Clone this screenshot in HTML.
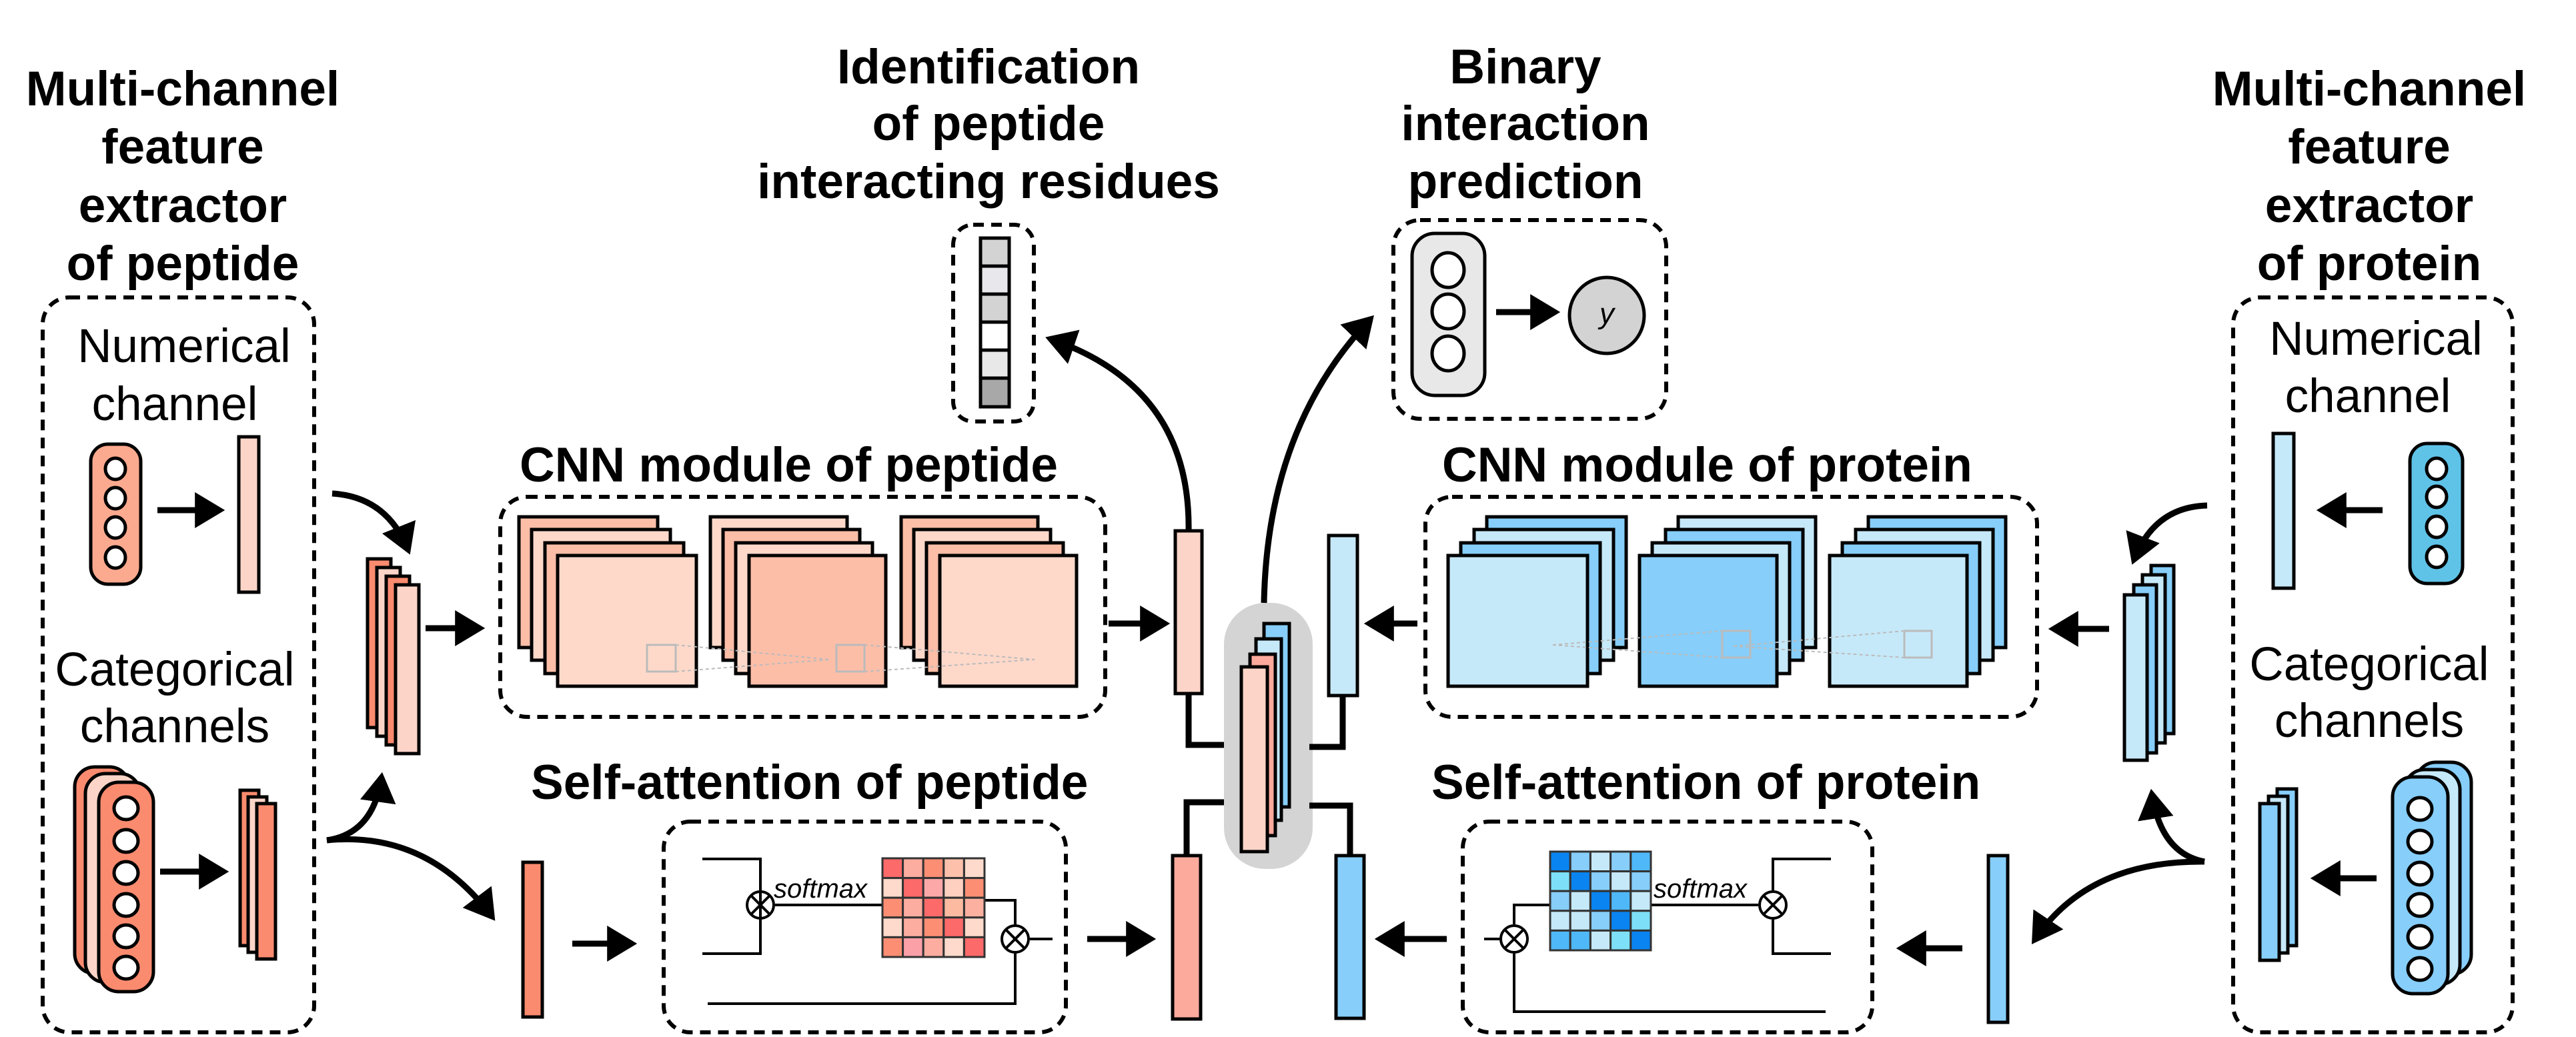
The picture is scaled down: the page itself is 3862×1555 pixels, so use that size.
<!DOCTYPE html>
<html><head><meta charset="utf-8"><style>
html,body{margin:0;padding:0;background:#fff}
svg{display:block}
text{font-family:"Liberation Sans",Arial,sans-serif}
.t{font-weight:bold;font-size:73px;text-anchor:middle}
.l{font-size:71px;text-anchor:middle}
.k{stroke:#000;stroke-width:5}
.d{fill:none;stroke:#000;stroke-width:6;stroke-dasharray:16 11}
.a{fill:none;stroke:#000;stroke-width:9}
.th{fill:none;stroke:#000;stroke-width:4}
.g{fill:none;stroke:#bbb;stroke-width:3}
.gd{fill:none;stroke:#bbb;stroke-width:2;stroke-dasharray:5 4}
</style></head><body>
<svg width="3862" height="1555" viewBox="0 0 3862 1555" xmlns="http://www.w3.org/2000/svg">
<defs>
<marker id="ah" markerWidth="6" markerHeight="6" refX="4.2" refY="3" orient="auto" markerUnits="strokeWidth">
<path d="M0,0 L5,3 L0,6 Z" fill="#000"/></marker>
</defs>

<text class="t" x="274" y="158">Multi-channel</text>
<text class="t" x="274" y="245">feature</text>
<text class="t" x="274" y="333">extractor</text>
<text class="t" x="274" y="420">of peptide</text>

<text class="t" x="3552" y="158">Multi-channel</text>
<text class="t" x="3552" y="245">feature</text>
<text class="t" x="3552" y="333">extractor</text>
<text class="t" x="3552" y="420">of protein</text>

<text class="t" x="1482" y="125">Identification</text>
<text class="t" x="1482" y="210">of peptide</text>
<text class="t" x="1482" y="297">interacting residues</text>

<text class="t" x="2287" y="125">Binary</text>
<text class="t" x="2287" y="210">interaction</text>
<text class="t" x="2287" y="297">prediction</text>

<text class="t" x="779" y="722" style="text-anchor:start">CNN module of peptide</text>
<text class="t" x="2162" y="722" style="text-anchor:start">CNN module of protein</text>
<text class="t" x="796" y="1198" style="text-anchor:start">Self-attention of peptide</text>
<text class="t" x="2146" y="1198" style="text-anchor:start">Self-attention of protein</text>

<rect class="d" x="64" y="446" width="407" height="1102" rx="40"/>
<text class="l" x="276" y="543">Numerical</text>
<text class="l" x="262" y="630">channel</text>
<text class="l" x="262" y="1028">Categorical</text>
<text class="l" x="262" y="1113">channels</text>
<rect class="k" x="136" y="666" width="75" height="210" rx="26" fill="#fcaa8f"/>
<g fill="#fff" class="k"><ellipse cx="173" cy="703" rx="15" ry="16"/><ellipse cx="173" cy="747" rx="15" ry="16"/><ellipse cx="173" cy="791" rx="15" ry="16"/><ellipse cx="173" cy="836" rx="15" ry="16"/></g>
<line class="a" x1="236" y1="765" x2="330" y2="765" marker-end="url(#ah)"/>
<rect class="k" x="358" y="655" width="30" height="233" fill="#fdd5c8"/>

<rect class="k" x="112" y="1150" width="82" height="310" rx="30" fill="#fb8b6f"/>
<rect class="k" x="128" y="1160" width="82" height="313" rx="30" fill="#fdd5c8"/>
<rect class="k" x="148" y="1173" width="82" height="314" rx="30" fill="#fb8b6f"/>
<g fill="#fff" class="k"><ellipse cx="189" cy="1212" rx="18" ry="17"/><ellipse cx="189" cy="1261" rx="18" ry="17"/><ellipse cx="189" cy="1309" rx="18" ry="17"/><ellipse cx="189" cy="1357" rx="18" ry="17"/><ellipse cx="189" cy="1404" rx="18" ry="17"/><ellipse cx="189" cy="1451" rx="18" ry="17"/></g>
<line class="a" x1="240" y1="1307" x2="336" y2="1307" marker-end="url(#ah)"/>
<rect class="k" x="360" y="1185" width="28" height="233" fill="#fb8b6f"/>
<rect class="k" x="372" y="1195" width="28" height="233" fill="#fdd5c8"/>
<rect class="k" x="385" y="1205" width="28" height="233" fill="#fb8b6f"/>

<path class="a" d="M498,740 Q580,745 612,825" marker-end="url(#ah)"/>
<path class="a" d="M490,1260 Q560,1250 572,1165" marker-end="url(#ah)"/>
<path class="a" d="M490,1260 Q640,1245 738,1375" marker-end="url(#ah)"/>

<rect class="k" x="551" y="838" width="35" height="253" fill="#fb8b6f"/>
<rect class="k" x="565" y="851" width="35" height="253" fill="#fdd5c8"/>
<rect class="k" x="579" y="864" width="35" height="253" fill="#fb8b6f"/>
<rect class="k" x="593" y="877" width="35" height="253" fill="#fdd5c8"/>
<line class="a" x1="638" y1="942" x2="720" y2="942" marker-end="url(#ah)"/>

<rect class="d" x="750" y="745" width="907" height="330" rx="40"/>
<g class="k">
<rect x="778" y="775" width="208" height="196" fill="#fdbea8"/>
<rect x="797" y="794" width="208" height="196" fill="#fed9ca"/>
<rect x="817" y="814" width="208" height="196" fill="#fdbea8"/>
<rect x="836" y="833" width="208" height="196" fill="#fed9ca"/>
<rect x="1065" y="775" width="205" height="196" fill="#fed9ca"/>
<rect x="1084" y="794" width="205" height="196" fill="#fdbea8"/>
<rect x="1103" y="814" width="205" height="196" fill="#fed9ca"/>
<rect x="1123" y="833" width="205" height="196" fill="#fdbea8"/>
<rect x="1351" y="775" width="205" height="196" fill="#fdbea8"/>
<rect x="1370" y="794" width="205" height="196" fill="#fed9ca"/>
<rect x="1389" y="814" width="205" height="196" fill="#fdbea8"/>
<rect x="1409" y="833" width="205" height="196" fill="#fed9ca"/>
</g>
<rect class="g" x="970" y="967" width="43" height="40"/>
<rect class="g" x="1254" y="967" width="42" height="40"/>
<path class="gd" d="M1013,967 L1244,989 M1013,1007 L1244,989 M1296,967 L1551,989 M1296,1007 L1551,989"/>

<rect class="d" x="995" y="1232" width="603" height="316" rx="40"/>
<rect class="k" x="784" y="1293" width="29" height="232" fill="#fb8b6f"/>
<line class="a" x1="858" y1="1415" x2="948" y2="1415" marker-end="url(#ah)"/>
<path class="th" d="M1053,1288 H1140 V1430 H1053"/>
<path class="th" d="M1162,1357 H1323 M1476,1350 H1522 V1386 M1544,1408 H1578 M1061,1505 H1522 V1430"/>
<circle cx="1140" cy="1357" r="20" fill="#fff" class="th"/>
<path class="th" d="M1126,1343 L1154,1371 M1154,1343 L1126,1371"/>
<circle cx="1522" cy="1408" r="20" fill="#fff" class="th"/>
<path class="th" d="M1508,1394 L1536,1422 M1536,1394 L1508,1422"/>
<text x="1160" y="1346" font-size="40" font-style="italic">softmax</text>
<g stroke="#333" stroke-width="3">
<rect x="1323" y="1287" width="30.6" height="29.6" fill="#fc6a6a"/><rect x="1353.6" y="1287" width="30.6" height="29.6" fill="#fcada0"/><rect x="1384.2" y="1287" width="30.6" height="29.6" fill="#fc8e74"/><rect x="1414.8" y="1287" width="30.6" height="29.6" fill="#fdc1ab"/><rect x="1445.4" y="1287" width="30.6" height="29.6" fill="#fddacb"/>
<rect x="1323" y="1316.6" width="30.6" height="29.6" fill="#fddacb"/><rect x="1353.6" y="1316.6" width="30.6" height="29.6" fill="#fc6a6a"/><rect x="1384.2" y="1316.6" width="30.6" height="29.6" fill="#fca8a8"/><rect x="1414.8" y="1316.6" width="30.6" height="29.6" fill="#fdd0c0"/><rect x="1445.4" y="1316.6" width="30.6" height="29.6" fill="#fc8e74"/>
<rect x="1323" y="1346.2" width="30.6" height="29.6" fill="#fc8e74"/><rect x="1353.6" y="1346.2" width="30.6" height="29.6" fill="#fcada0"/><rect x="1384.2" y="1346.2" width="30.6" height="29.6" fill="#fc6a6a"/><rect x="1414.8" y="1346.2" width="30.6" height="29.6" fill="#fcbba1"/><rect x="1445.4" y="1346.2" width="30.6" height="29.6" fill="#fcb0a0"/>
<rect x="1323" y="1375.8" width="30.6" height="29.6" fill="#fddacb"/><rect x="1353.6" y="1375.8" width="30.6" height="29.6" fill="#fcada0"/><rect x="1384.2" y="1375.8" width="30.6" height="29.6" fill="#fc8e74"/><rect x="1414.8" y="1375.8" width="30.6" height="29.6" fill="#fc6a6a"/><rect x="1445.4" y="1375.8" width="30.6" height="29.6" fill="#fddacb"/>
<rect x="1323" y="1405.4" width="30.6" height="29.6" fill="#fc8e74"/><rect x="1353.6" y="1405.4" width="30.6" height="29.6" fill="#fca0a8"/><rect x="1384.2" y="1405.4" width="30.6" height="29.6" fill="#fcada0"/><rect x="1414.8" y="1405.4" width="30.6" height="29.6" fill="#fddacb"/><rect x="1445.4" y="1405.4" width="30.6" height="29.6" fill="#fc6a6a"/>
</g>

<line class="a" x1="1662" y1="935" x2="1747" y2="935" marker-end="url(#ah)"/>
<line class="a" x1="1630" y1="1408" x2="1726" y2="1408" marker-end="url(#ah)"/>
<rect class="k" x="1762" y="796" width="40" height="244" fill="#fdd5c8"/>
<rect class="k" x="1758" y="1283" width="42" height="245" fill="#fcaa9c"/>
<path class="a" d="M1782,1040 V1117 H1840 M1779,1283 V1203 H1840"/>

<rect x="1835" y="904" width="133" height="399" rx="62" fill="#d4d4d4"/>
<rect class="k" x="1895" y="935" width="38" height="275" fill="#87cefa"/>
<rect class="k" x="1883" y="958" width="38" height="272" fill="#c6e9f9"/>
<rect class="k" x="1874" y="981" width="38" height="272" fill="#fcaa9c"/>
<rect class="k" x="1861" y="1000" width="39" height="277" fill="#fdd5c8"/>

<path class="a" d="M1782,796 Q1785,580 1574,508" marker-end="url(#ah)"/>
<path class="a" d="M1895,904 Q1900,640 2055,478" marker-end="url(#ah)"/>

<rect class="d" x="1429" y="337" width="121" height="295" rx="30"/>
<g class="k" stroke-width="4">
<rect x="1470" y="357" width="43" height="42" fill="#d3d3d3"/>
<rect x="1470" y="399" width="43" height="42" fill="#e8e8ec"/>
<rect x="1470" y="441" width="43" height="42" fill="#d3d3d3"/>
<rect x="1470" y="483" width="43" height="42" fill="#ffffff"/>
<rect x="1470" y="525" width="43" height="42" fill="#e8e8e8"/>
<rect x="1470" y="567" width="43" height="43" fill="#a8a8a8"/>
</g>

<rect class="d" x="2089" y="330" width="409" height="298" rx="40"/>
<rect class="k" x="2117" y="350" width="109" height="243" rx="34" fill="#e8e8e8"/>
<g fill="#fff" class="k"><ellipse cx="2171" cy="405" rx="24" ry="26"/><ellipse cx="2171" cy="467" rx="24" ry="26"/><ellipse cx="2171" cy="530" rx="24" ry="26"/></g>
<line class="a" x1="2243" y1="468" x2="2332" y2="468" marker-end="url(#ah)"/>
<ellipse class="k" cx="2409" cy="473" rx="56" ry="57" fill="#d3d3d3"/>
<text x="2409" y="485" font-size="44" font-style="italic" text-anchor="middle">y</text>

<rect class="k" x="1992" y="803" width="43" height="240" fill="#c6e9f9"/>
<rect class="k" x="2003" y="1283" width="42" height="244" fill="#87cefa"/>
<path class="a" d="M2013,1043 V1120 H1963 M2024,1283 V1208 H1963"/>
<line class="a" x1="2125" y1="935" x2="2052" y2="935" marker-end="url(#ah)"/>
<line class="a" x1="2169" y1="1408" x2="2068" y2="1408" marker-end="url(#ah)"/>

<rect class="d" x="2137" y="745" width="917" height="330" rx="40"/>
<g class="k">
<rect x="2229" y="775" width="209" height="196" fill="#87cefa"/>
<rect x="2210" y="794" width="209" height="196" fill="#c6e9f9"/>
<rect x="2190" y="814" width="209" height="196" fill="#87cefa"/>
<rect x="2171" y="833" width="209" height="196" fill="#c6e9f9"/>
<rect x="2516" y="775" width="206" height="196" fill="#c6e9f9"/>
<rect x="2497" y="794" width="206" height="196" fill="#87cefa"/>
<rect x="2477" y="814" width="206" height="196" fill="#c6e9f9"/>
<rect x="2458" y="833" width="206" height="196" fill="#87cefa"/>
<rect x="2801" y="775" width="206" height="196" fill="#87cefa"/>
<rect x="2782" y="794" width="206" height="196" fill="#c6e9f9"/>
<rect x="2762" y="814" width="206" height="196" fill="#87cefa"/>
<rect x="2743" y="833" width="206" height="196" fill="#c6e9f9"/>
</g>
<rect class="g" x="2582" y="946" width="42" height="40"/>
<rect class="g" x="2855" y="946" width="41" height="40"/>
<path class="gd" d="M2328,967 L2582,946 M2328,967 L2582,986 M2599,969 L2855,946 M2599,969 L2855,986"/>

<rect class="d" x="2193" y="1232" width="614" height="316" rx="40"/>
<path class="th" d="M2225,1408 H2248 M2270,1386 V1357 H2324 M2270,1430 V1517 H2737 M2475,1357 H2636 M2658,1335 V1288 H2745 M2658,1379 V1430 H2745"/>
<circle cx="2270" cy="1408" r="20" fill="#fff" class="th"/>
<path class="th" d="M2256,1394 L2284,1422 M2284,1394 L2256,1422"/>
<circle cx="2658" cy="1357" r="20" fill="#fff" class="th"/>
<path class="th" d="M2644,1343 L2672,1371 M2672,1343 L2644,1371"/>
<text x="2479" y="1346" font-size="40" font-style="italic">softmax</text>
<g stroke="#333" stroke-width="3">
<rect x="2324" y="1277" width="30.2" height="29.6" fill="#0a84f0"/><rect x="2354.2" y="1277" width="30.2" height="29.6" fill="#87cefa"/><rect x="2384.4" y="1277" width="30.2" height="29.6" fill="#c6e9f9"/><rect x="2414.6" y="1277" width="30.2" height="29.6" fill="#87cefa"/><rect x="2444.8" y="1277" width="30.2" height="29.6" fill="#4fb8f8"/>
<rect x="2324" y="1306.6" width="30.2" height="29.6" fill="#7ee0f8"/><rect x="2354.2" y="1306.6" width="30.2" height="29.6" fill="#0a84f0"/><rect x="2384.4" y="1306.6" width="30.2" height="29.6" fill="#87cefa"/><rect x="2414.6" y="1306.6" width="30.2" height="29.6" fill="#c6e9f9"/><rect x="2444.8" y="1306.6" width="30.2" height="29.6" fill="#87cefa"/>
<rect x="2324" y="1336.2" width="30.2" height="29.6" fill="#87cefa"/><rect x="2354.2" y="1336.2" width="30.2" height="29.6" fill="#c6e9f9"/><rect x="2384.4" y="1336.2" width="30.2" height="29.6" fill="#0a84f0"/><rect x="2414.6" y="1336.2" width="30.2" height="29.6" fill="#4fb8f8"/><rect x="2444.8" y="1336.2" width="30.2" height="29.6" fill="#c6e9f9"/>
<rect x="2324" y="1365.8" width="30.2" height="29.6" fill="#c6e9f9"/><rect x="2354.2" y="1365.8" width="30.2" height="29.6" fill="#c6e9f9"/><rect x="2384.4" y="1365.8" width="30.2" height="29.6" fill="#87cefa"/><rect x="2414.6" y="1365.8" width="30.2" height="29.6" fill="#0a84f0"/><rect x="2444.8" y="1365.8" width="30.2" height="29.6" fill="#7ee0f8"/>
<rect x="2324" y="1395.4" width="30.2" height="29.6" fill="#4fb8f8"/><rect x="2354.2" y="1395.4" width="30.2" height="29.6" fill="#4fb8f8"/><rect x="2384.4" y="1395.4" width="30.2" height="29.6" fill="#c6e9f9"/><rect x="2414.6" y="1395.4" width="30.2" height="29.6" fill="#7ee0f8"/><rect x="2444.8" y="1395.4" width="30.2" height="29.6" fill="#0a84f0"/>
</g>
<line class="a" x1="2942" y1="1422" x2="2850" y2="1422" marker-end="url(#ah)"/>
<rect class="k" x="2981" y="1283" width="29" height="250" fill="#87cefa"/>

<rect class="k" x="3225" y="848" width="34" height="252" fill="#87cefa"/>
<rect class="k" x="3212" y="862" width="34" height="252" fill="#c6e9f9"/>
<rect class="k" x="3199" y="877" width="34" height="252" fill="#87cefa"/>
<rect class="k" x="3185" y="892" width="34" height="248" fill="#c6e9f9"/>
<line class="a" x1="3162" y1="943" x2="3078" y2="943" marker-end="url(#ah)"/>
<path class="a" d="M3309,758 Q3230,760 3199,840" marker-end="url(#ah)"/>
<path class="a" d="M3305,1292 Q3240,1280 3226,1190" marker-end="url(#ah)"/>
<path class="a" d="M3305,1292 Q3130,1290 3050,1410" marker-end="url(#ah)"/>

<rect class="d" x="3348" y="446" width="419" height="1102" rx="40"/>
<text class="l" x="3562" y="532">Numerical</text>
<text class="l" x="3550" y="618">channel</text>
<text class="l" x="3552" y="1020">Categorical</text>
<text class="l" x="3552" y="1105">channels</text>
<rect class="k" x="3408" y="650" width="31" height="232" fill="#c6e9f9"/>
<line class="a" x1="3572" y1="765" x2="3480" y2="765" marker-end="url(#ah)"/>
<rect class="k" x="3613" y="665" width="79" height="210" rx="26" fill="#5fc3e8"/>
<g fill="#fff" class="k"><ellipse cx="3653" cy="703" rx="15" ry="16"/><ellipse cx="3653" cy="745" rx="15" ry="16"/><ellipse cx="3653" cy="790" rx="15" ry="16"/><ellipse cx="3653" cy="835" rx="15" ry="16"/></g>
<rect class="k" x="3414" y="1183" width="29" height="235" fill="#87cefa"/>
<rect class="k" x="3401" y="1194" width="29" height="235" fill="#c6e9f9"/>
<rect class="k" x="3388" y="1205" width="29" height="235" fill="#87cefa"/>
<line class="a" x1="3563" y1="1317" x2="3471" y2="1317" marker-end="url(#ah)"/>
<rect class="k" x="3622" y="1143" width="83" height="318" rx="30" fill="#87cefa"/>
<rect class="k" x="3605" y="1154" width="83" height="322" rx="30" fill="#c6e9f9"/>
<rect class="k" x="3587" y="1165" width="83" height="325" rx="30" fill="#87cefa"/>
<g fill="#fff" class="k"><ellipse cx="3628" cy="1213" rx="18" ry="17"/><ellipse cx="3628" cy="1262" rx="18" ry="17"/><ellipse cx="3628" cy="1310" rx="18" ry="17"/><ellipse cx="3628" cy="1357" rx="18" ry="17"/><ellipse cx="3628" cy="1405" rx="18" ry="17"/><ellipse cx="3628" cy="1453" rx="18" ry="17"/></g>
</svg>
</body></html>
